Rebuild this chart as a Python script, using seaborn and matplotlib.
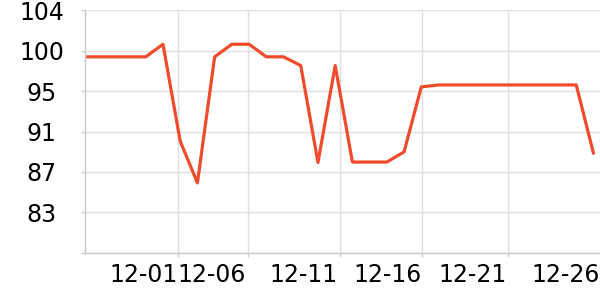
import numpy as np
import pandas as pd
import matplotlib
matplotlib.use("Agg")
import matplotlib.pyplot as plt
import seaborn as sns

# ---- data ----
dates = ["11-26", "11-27", "11-28", "11-29", "11-30", "12-01", "12-02", "12-03",
         "12-04", "12-05", "12-06", "12-07", "12-08", "12-09", "12-10", "12-11",
         "12-12", "12-13", "12-14", "12-15", "12-16", "12-17", "12-18", "12-19",
         "12-20", "12-21", "12-22", "12-23", "12-24", "12-25", "12-26"]
values = [99.2, 99.2, 99.2, 99.2, 99.2, 100.5, 90.5, 86.2, 99.2, 100.5, 100.5,
          99.2, 99.2, 98.3, 88.3, 98.3, 88.35, 88.35, 88.35, 89.4, 96.1, 96.3,
          96.3, 96.3, 96.3, 96.3, 96.3, 96.3, 96.3, 96.3, 89.25]
y_tick_labels = ["", "83", "87", "91", "95", "100", "104"]
x_tick_labels = ["12-01", "12-06", "12-11", "12-16", "12-21", "12-26"]

df = pd.DataFrame({"date": dates, "value": values})
df["pos"] = np.arange(len(df)) - 0.5

sns.set_theme(style="white")
plt.rcParams["font.family"] = ["DejaVu Sans"]

fig = plt.figure(figsize=(6, 3), dpi=100)
ax = fig.add_axes([85.5 / 600, (300 - 252.7) / 300, (600 - 85.5) / 600, (252.7 - 10.3) / 300])

sns.lineplot(data=df, x="pos", y="value", ax=ax, color="#ef4b2c", linewidth=2.3)

ax.set_xlim(0, (600 - 85.5) / 17.22)
ax.set_ylim(79, 104)

# y ticks
ax.set_yticks(np.linspace(79, 104, 7))
ax.set_yticklabels(y_tick_labels)
for t in ax.get_yticklabels():
    t.set_horizontalalignment("center")
ax.tick_params(axis="y", which="major", length=3, width=1, color="#d0d0d0",
               pad=28.4, labelsize=17, labelcolor="black", left=True)

# x grid/tick positions and label positions
grid_px = [177.5, 248.3, 340.3, 422.3, 508.3]
label_px = [143.5, 212.0, 304.0, 388.0, 473.0, 565.5]
ax.set_xticks([(p - 85.5) / 17.22 for p in grid_px])
ax.set_xticklabels([""] * len(grid_px))
ax.set_xticks([(p - 85.5) / 17.22 for p in label_px], minor=True)
ax.set_xticklabels(x_tick_labels, minor=True)
ax.tick_params(axis="x", which="major", length=3, width=1, color="#d0d0d0", bottom=True)
ax.tick_params(axis="x", which="minor", length=0, pad=7.5, labelsize=17, labelcolor="black")

ax.grid(True, which="major", color="#e0e0e0", linewidth=1)
ax.set_axisbelow(True)

for s in ["top", "right"]:
    ax.spines[s].set_visible(False)
for s in ["left", "bottom"]:
    ax.spines[s].set_color("#c8c8c8")
    ax.spines[s].set_linewidth(1)

ax.set_xlabel("")
ax.set_ylabel("")

fig.savefig("out.png", dpi=100)
